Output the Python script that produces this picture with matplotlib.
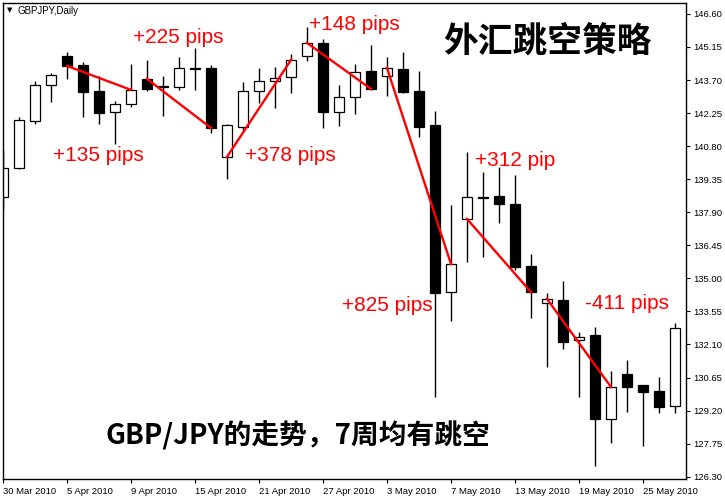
import matplotlib
matplotlib.use('Agg')
import matplotlib.pyplot as plt
import pandas as pd

# daily GBPJPY bars
dates = ['2010-03-30', '2010-03-31', '2010-04-01', '2010-04-02', '2010-04-05',
         '2010-04-06', '2010-04-07', '2010-04-08', '2010-04-09', '2010-04-12',
         '2010-04-13', '2010-04-14', '2010-04-15', '2010-04-16', '2010-04-19',
         '2010-04-20', '2010-04-21', '2010-04-22', '2010-04-23', '2010-04-26',
         '2010-04-27', '2010-04-28', '2010-04-29', '2010-04-30', '2010-05-03',
         '2010-05-04', '2010-05-05', '2010-05-06', '2010-05-07', '2010-05-10',
         '2010-05-11', '2010-05-12', '2010-05-13', '2010-05-14', '2010-05-17',
         '2010-05-18', '2010-05-19', '2010-05-20', '2010-05-21', '2010-05-24',
         '2010-05-25', '2010-05-26', '2010-05-27']
opens = [138.57, 139.84, 141.91, 143.49, 144.76, 144.36, 143.22, 142.30, 142.65, 143.75,
         143.42, 143.38, 144.23, 144.23, 140.33, 141.64, 143.22, 143.66, 143.84, 144.76,
         145.33, 142.30, 142.96, 144.10, 143.88, 144.19, 143.22, 141.73, 134.40, 137.61,
         138.55, 138.62, 138.26, 135.54, 133.92, 134.05, 132.30, 132.52, 128.83, 130.81,
         130.32, 130.06, 129.40]
highs = [140.63, 142.08, 143.66, 144.01, 144.93, 144.49, 143.88, 142.78, 144.41, 144.58,
         143.88, 144.71, 145.11, 144.36, 141.77, 143.62, 144.23, 144.28, 144.85, 146.03,
         145.50, 143.49, 144.41, 145.24, 144.71, 144.93, 144.10, 142.34, 138.22, 140.55,
         139.67, 139.89, 139.54, 136.07, 134.36, 134.89, 132.65, 132.87, 130.94, 131.42,
         130.32, 130.67, 133.04]
lows = [138.00, 139.80, 141.77, 142.74, 143.75, 142.08, 141.77, 140.90, 142.52, 143.22,
        142.13, 143.27, 143.27, 141.38, 139.36, 141.51, 142.70, 142.48, 143.13, 144.54,
        141.60, 141.69, 142.21, 143.27, 143.00, 143.15, 141.20, 129.80, 133.13, 135.72,
        135.94, 137.43, 135.37, 133.26, 131.11, 131.90, 129.80, 126.77, 127.78, 129.14,
        127.65, 129.09, 129.09]
closes = [139.84, 141.95, 143.49, 143.92, 144.32, 143.18, 142.26, 142.65, 143.27, 143.31,
          143.38, 144.23, 144.19, 141.60, 141.73, 143.22, 143.66, 143.79, 144.58, 145.33,
          142.30, 142.96, 144.06, 143.31, 144.23, 143.18, 141.64, 134.36, 135.63, 138.57,
          138.51, 138.26, 135.50, 134.40, 134.10, 132.21, 132.43, 128.83, 130.24, 130.24,
          130.02, 129.36, 132.82]

# weekly gaps: (start bar, start price field, end bar, end price field)
gap_lines = [(4, 'close', 8, 'close'), (9, 'open', 13, 'close'), (14, 'open', 18, 'close'),
             (19, 'close', 23, 'close'), (24, 'close', 28, 'close'), (29, 'open', 33, 'close'),
             (34, 'close', 38, 'close')]
gap_labels = ['+135 pips', '+225 pips', '+378 pips', '+148 pips', '+825 pips', '+312 pip', '-411 pips']

price_ticks = [146.60, 145.15, 143.70, 142.25, 140.80, 139.35, 137.90, 136.45,
               135.00, 133.55, 132.10, 130.65, 129.20, 127.75, 126.30]

title = '外汇跳空策略'
subtitle = 'GBP/JPY的走势，7周均有跳空'

df = pd.DataFrame({'date': pd.to_datetime(dates), 'open': opens, 'high': highs,
                   'low': lows, 'close': closes})

W, H = 725, 500
fig = plt.figure(figsize=(7.25, 5), dpi=100)
ax = fig.add_axes([3 / W, 21 / H, 683 / W, 476 / H])

x = list(range(len(df)))
ax.vlines(x, df['low'], df['high'], color='black', lw=1.0, zorder=1)
for i, r in df.iterrows():
    up = r['close'] >= r['open']
    lo = min(r['open'], r['close'])
    h = max(abs(r['close'] - r['open']), 0.03)
    ax.bar(i, h, bottom=lo, width=0.67, color='white' if up else 'black',
           edgecolor='black', linewidth=0.9, zorder=2)

for (a, fa, b, fb) in gap_lines:
    ax.plot([a, b], [df.loc[a, fa], df.loc[b, fb]], color='red', lw=1.7, zorder=3)

# label spots (bar index, price)
label_pos = [(5.94, 140.41), (10.94, 145.55), (17.94, 140.41), (21.94, 146.12),
             (24.0, 133.83), (32.0, 140.15), (39.0, 133.88)]
for (lx, ly), t in zip(label_pos, gap_labels):
    ax.text(lx, ly, t, color='red', fontsize=15, ha='center', va='center',
            family='Liberation Sans', zorder=4)

ax.set_xlim(0, 42.69)
ax.set_ylim(126.20, 147.08)

ax.yaxis.tick_right()
ax.set_yticks(price_ticks)
ax.set_yticklabels(['%.2f' % v for v in price_ticks], family='Liberation Sans', fontsize=6.8)
ax.tick_params(axis='y', direction='out', length=3, width=0.8, pad=2)

xt = x[::4]
ax.set_xticks(xt)
ax.set_xticklabels([df.loc[i, 'date'].strftime('%-d %b %Y') for i in xt],
                   family='Liberation Sans', fontsize=6.8, ha='left')
ax.tick_params(axis='x', direction='out', length=3, width=0.8, pad=3)

for s in ax.spines.values():
    s.set_linewidth(1.0)

fig.text(10 / W, 1 - 10.5 / H, '▼', fontsize=5, ha='center', va='center', family='DejaVu Sans')
fig.text(18 / W, 1 - 11 / H, 'GBPJPY,Daily', fontsize=7, ha='left', va='center',
         family='Liberation Sans')

fig.text(547.5 / W, 1 - 41 / H, title, fontsize=25, fontweight='bold', ha='center',
         va='center', family=['Noto Sans CJK SC', 'DejaVu Sans'])
fig.text(298 / W, 1 - 436 / H, subtitle, fontsize=20, fontweight='bold', ha='center',
         va='center', family=['Noto Sans CJK SC', 'DejaVu Sans'])

fig.savefig('out.png', dpi=100)
